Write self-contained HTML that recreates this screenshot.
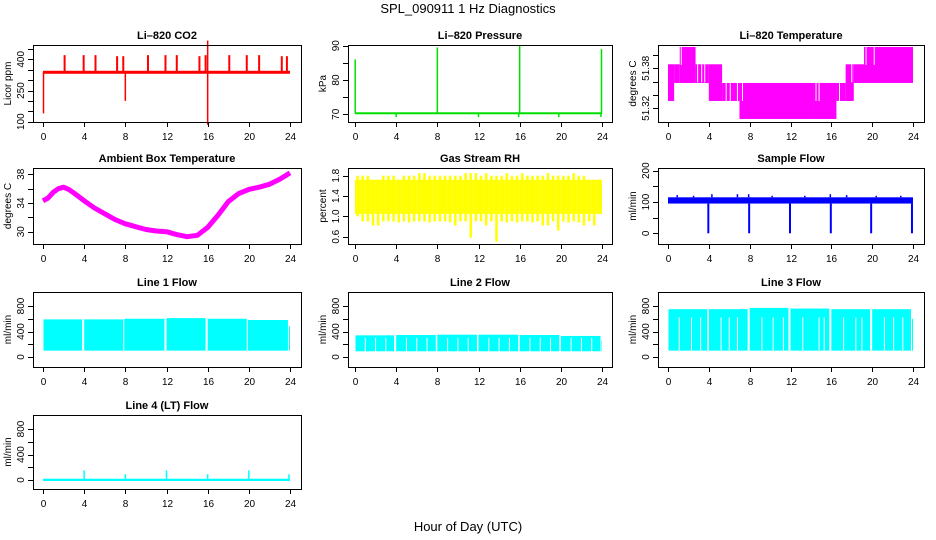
<!DOCTYPE html>
<html><head><meta charset="utf-8"><style>
html,body{margin:0;padding:0;background:#fff;}
svg{display:block;font-family:"Liberation Sans",sans-serif;}
</style></head><body>
<svg id="fig" width="936" height="540" viewBox="0 0 936 540" xmlns="http://www.w3.org/2000/svg">
<text x="468" y="13" text-anchor="middle" font-size="13">SPL_090911  1 Hz Diagnostics</text>
<text x="468" y="531" text-anchor="middle" font-size="13">Hour of Day (UTC)</text>
</svg>
<script>
// ---------- data ----------
const xTicks = [0,4,8,12,16,20,24];
// CO2
const co2Base = 340;
const co2SpikeHours = [2.1,3.95,5.1,7.2,7.8,10.2,11.9,13.0,15.2,15.8,18.1,19.8,21.0,23.2,23.7];
const co2SpikeVals = [420,420,420,415,415,420,420,420,415,420,420,420,420,415,415];
const co2DipHours = [0.05,8.0,16.0];
const co2DipVals = [140,200,85];
const co2UpHours = [16.0];
const co2UpVals = [490];
const co2Ticks = [100,150,200,250,300,350,400,450];
const co2Labels = [100,250,400];
// Pressure
const presBase = 70.3;
const presSpikeHours = [0.02,8.0,16.0,23.95];
const presSpikeVals = [86,89.5,90,89];
const presDipHours = [4.0,12.0,15.9,19.8,23.9];
const presDipVals = [69.2,69.2,69.2,69.2,69.2];
const presTicks = [70,75,80,85,90];
const presLabels = [70,80,90];
// Li-820 temperature: segments
const ltStart = [0,0.6,1.15,2.7,4.0,5.3,7.0,14.3,16.5,17.4,18.2,19.2];
const ltEnd   = [0.6,1.15,2.7,4.0,5.3,7.0,14.3,16.5,17.4,18.2,19.2,24];
const ltLow   = [51.331,51.358,51.358,51.358,51.331,51.331,51.304,51.304,51.331,51.331,51.358,51.358];
const ltHigh  = [51.386,51.386,51.412,51.386,51.386,51.358,51.358,51.358,51.358,51.386,51.386,51.412];
const ltGapHours = [1.3,2.9,3.3,3.6,5.7,6.1,6.8,7.3,14.5,14.8,16.8,18.0,19.4,20.2];
const ltTicks = [51.32,51.34,51.36,51.38,51.40];
const ltLabels = [51.32,51.38];
// Ambient box temperature
const ambHours = [0,0.5,1,1.5,2,2.5,3,4,5,6,7,8,9,10,11,12,13,14,15,16,17,18,19,20,21,22,23,24];
const ambVals  = [34.3,34.7,35.5,36.0,36.2,35.9,35.4,34.3,33.3,32.5,31.7,31.1,30.7,30.3,30.1,30.0,29.6,29.3,29.5,30.6,32.3,34.2,35.3,35.9,36.2,36.6,37.3,38.2];
const ambTicks = [30,32,34,36,38];
const ambLabels = [30,34,38];
// RH (half-hour bins)
const rhMax = [1.8,1.8,1.8,1.72,1.72,1.8,1.8,1.8,1.72,1.8,1.8,1.8,1.85,1.85,1.8,1.8,1.8,1.8,1.8,1.8,1.8,1.85,1.85,1.85,1.8,1.85,1.8,1.8,1.8,1.85,1.8,1.8,1.85,1.8,1.8,1.8,1.8,1.85,1.8,1.8,1.8,1.8,1.85,1.8,1.8,1.72,1.72,1.72];
const rhMin = [1.0,0.9,0.9,0.82,0.82,0.9,0.9,0.9,0.88,0.9,0.88,0.9,0.9,0.9,0.88,0.9,0.9,0.9,0.88,0.82,0.9,0.9,0.58,0.9,0.9,0.82,0.9,0.5,0.9,0.88,0.9,0.88,0.9,0.9,0.88,0.9,0.82,0.82,0.9,0.72,0.9,0.88,0.9,0.88,0.82,0.9,0.82,1.1];
const rhTicks = [0.6,1.0,1.4,1.8];
const rhLabels = ["0.6","1.0","1.4","1.8"];
// Sample flow
const sfLow = 95, sfHigh = 115;
const sfDipHours = [3.95,7.95,11.95,15.95,19.9,23.9];
const sfSpikeHours = [0.9,2.5,4.3,6.8,7.9,10.2,13.4,15.9,17.5,20.4,22.8];
const sfSpikeVals = [122,120,125,125,125,120,120,125,122,120,120];
const sfTicks = [0,50,100,150,200];
const sfLabels = [0,100,200];
// Line flows
const flowTicks = [0,200,400,600,800];
const flowLabels = [0,400,800];
const l1Start = [0.05,4.0,7.9,12.0,16.0,19.9,23.9];
const l1End   = [3.8,7.8,11.8,15.8,19.8,23.8,24.0];
const l1High  = [590,590,600,610,600,580,480];
const l1Low = 100;
const l2Start = [0.05,4.0,8.0,12.0,16.0,20.0,23.95];
const l2End   = [3.8,7.85,11.85,15.85,19.85,23.85,24.0];
const l2High  = [340,345,350,350,345,330,260];
const l2Low = 90;
const l2GapHours = [1,2,3,5,6,7,9,10,11,13,14,15,17,18,19,21,22,23];
const l2GapTop = 300;
const l3Start = [0.05,4.0,8.0,12.0,16.0,20.0,23.9];
const l3End   = [3.85,7.8,11.8,15.8,19.8,23.8,24.0];
const l3High  = [750,750,770,760,750,750,600];
const l3Low = 100;
const l3GapHours = [1.1,2.3,3.2,5.2,6.0,6.8,9.2,10.3,11.3,13.2,14.8,15.3,17.2,18.4,19.0,21.2,22.1,23.0];
const l3GapTop = 620;
const l4SpikeHours = [4.0,8.0,12.0,16.0,20.0,23.9];
const l4SpikeVals = [150,90,150,90,150,90];
const l4High = 20;

// ---------- helpers ----------
const NS = "http://www.w3.org/2000/svg";
const svg = document.getElementById("fig");
function mk(tag, attrs, parent){const e=document.createElementNS(NS,tag);for(const k in attrs)e.setAttribute(k,attrs[k]);(parent||svg).appendChild(e);return e;}
function lin(d0,d1,r0,r1){return v=>r0+(v-d0)*(r1-r0)/(d1-d0);}

function panel(o){
  const g=mk("g",{});
  
  
  const X=lin(0,24,o.x0,o.x24);
  const Y=lin(o.v0,o.v1,o.p0,o.p1);
  const t=mk("text",{x:(o.bx0+o.bx1)/2,y:o.by0-6,"text-anchor":"middle","font-size":"11","font-weight":"bold"},g);
  t.textContent=o.title;
  
  
  const plot=mk("g",{},g);
  
  
  o.draw(plot,X,Y);
  const box=mk("rect",{x:o.bx0+0.5,y:o.by0+0.5,width:o.bx1-o.bx0,height:o.by1-o.by0,fill:"none",stroke:"#000","stroke-width":1},g);
  
  
  const xa=mk("g",{},g);
  
  
  xTicks.forEach(v=>{
    const x=Math.round(X(v))+0.5;
    mk("line",{x1:x,x2:x,y1:o.by1,y2:o.by1+5,stroke:"#000"},xa);
    const tx=mk("text",{x:x,y:o.by1+18,"text-anchor":"middle","font-size":"10"},xa);
    tx.textContent=v;
  });
  const ya=mk("g",{},g);
  
  
  o.yTicks.forEach(v=>{
    const y=Math.round(Y(v))+0.5;
    mk("line",{x1:o.bx0-5,x2:o.bx0,y1:y,y2:y,stroke:"#000"},ya);
  });
  o.yLabels.forEach(v=>{
    const y=Y(+v);
    const tx=mk("text",{x:0,y:0,"text-anchor":"middle","font-size":"10",transform:`translate(${o.bx0-9},${y}) rotate(-90)`},ya);
    tx.textContent=v;
  });
  const yt=mk("text",{x:0,y:0,"text-anchor":"middle","font-size":"10",transform:`translate(${o.bx0-22},${(o.by0+o.by1)/2}) rotate(-90)`},g);
  yt.textContent=o.ylab;
  
  
}
function vline(p,x,y1,y2,c,w,nm){const e=mk("line",{x1:x,x2:x,y1:y1,y2:y2,stroke:c,"stroke-width":w||1.5},p);return e;}
function rect(p,x0,x1,y0,y1,c,nm){const e=mk("rect",{x:Math.min(x0,x1),y:Math.min(y0,y1),width:Math.abs(x1-x0),height:Math.max(1,Math.abs(y1-y0)),fill:c},p);return e;}

const C1={bx0:33,bx1:301,x0:43,x24:290}, C2={bx0:348,bx1:612,x0:355,x24:602}, C3={bx0:658,bx1:924,x0:668,x24:913};
const R1={by0:45,by1:122}, R2={by0:168,by1:244}, R3={by0:292,by1:367}, R4={by0:415,by1:489};

panel(Object.assign({name:"co2",title:"Li\u2013820 CO2",ylab:"Licor ppm",v0:100,v1:400,p0:121.7,p1:59.3,yTicks:co2Ticks,yLabels:co2Labels,
 draw:(p,X,Y)=>{
  const red="#ff0000";
  rect(p,X(0),X(24),Y(co2Base)-1,Y(co2Base)+2,red,"co2-baseline");
  co2SpikeHours.forEach((h,i)=>vline(p,X(h),Y(co2Base),Y(co2SpikeVals[i]),red,2,"co2-spike"));
  co2DipHours.forEach((h,i)=>vline(p,X(h),Y(co2Base),Y(co2DipVals[i]),red,1.5,"co2-dip"));
  co2UpHours.forEach((h,i)=>vline(p,X(h),Y(co2Base),Y(co2UpVals[i]),red,1.5,"co2-up-spike"));
 }},C1,R1));

panel(Object.assign({name:"pressure",title:"Li\u2013820 Pressure",ylab:"kPa",v0:70,v1:90,p0:114.3,p1:45.7,yTicks:presTicks,yLabels:presLabels,
 draw:(p,X,Y)=>{
  const gr="#00e000";
  rect(p,X(0),X(24),Y(presBase)-1,Y(presBase)+1,gr,"pressure-baseline");
  presSpikeHours.forEach((h,i)=>vline(p,X(h),Y(presBase),Y(presSpikeVals[i]),gr,1.5,"pressure-spike"));
  presDipHours.forEach((h,i)=>vline(p,X(h),Y(presBase),Y(presDipVals[i]),gr,1.5,"pressure-dip"));
 }},C2,R1));

panel(Object.assign({name:"li820-temp",title:"Li\u2013820 Temperature",ylab:"degrees C",v0:51.32,v1:51.38,p0:108.3,p1:68.3,yTicks:ltTicks,yLabels:ltLabels,
 draw:(p,X,Y)=>{
  ltStart.forEach((s,i)=>rect(p,X(s),X(ltEnd[i]),Y(ltHigh[i]),Y(ltLow[i]),"#ff00ff","temp-band"));
  ltGapHours.forEach(h=>{
    const i=ltStart.findIndex((s,k)=>h>=s&&h<ltEnd[k]);
    vline(p,X(h),Y(ltHigh[i]),Y(ltHigh[i]-0.027),"#ffffff",1,"temp-gap");
  });
 }},C3,R1));

panel(Object.assign({name:"ambient-temp",title:"Ambient Box Temperature",ylab:"degrees C",v0:30,v1:38,p0:231.7,p1:174.3,yTicks:ambTicks,yLabels:ambLabels,
 draw:(p,X,Y)=>{
  const d=ambHours.map((h,i)=>(i?"L":"M")+X(h).toFixed(1)+","+Y(ambVals[i]).toFixed(1)).join(" ");
  const e=mk("path",{d:d,fill:"none",stroke:"#ff00ff","stroke-width":5,"stroke-linejoin":"round"},p);
  
  
 }},C1,R2));

panel(Object.assign({name:"rh",title:"Gas Stream RH",ylab:"percent",v0:0.6,v1:1.8,p0:236.7,p1:175.7,yTicks:rhTicks,yLabels:rhLabels,
 draw:(p,X,Y)=>{
  const n=rhMax.length;
  rhMax.forEach((v,i)=>{
    rect(p,X(24*i/n),X(24*(i+1)/n),Y(1.72),Y(1.05),"#ffff00","rh-core");
    vline(p,X(24*(i+0.5)/n),Y(v),Y(rhMin[i]),"#ffff00",2.5,"rh-bar");
  });
 }},C2,R2));

panel(Object.assign({name:"sample-flow",title:"Sample Flow",ylab:"ml/min",v0:0,v1:200,p0:233.3,p1:170.7,yTicks:sfTicks,yLabels:sfLabels,
 draw:(p,X,Y)=>{
  const b="#0000ff";
  rect(p,X(0),X(24),Y(sfHigh),Y(sfLow),b,"sample-flow-band");
  sfDipHours.forEach(h=>vline(p,X(h),Y(sfLow),Y(0),b,2,"sample-flow-dip"));
  sfSpikeHours.forEach((h,i)=>vline(p,X(h),Y(sfHigh),Y(sfSpikeVals[i]),b,1.5,"sample-flow-spike"));
 }},C3,R2));

function flowPanel(name,title,col,row,starts,ends,highs,low,gaps,gapTop){
  panel(Object.assign({name:name,title:title,ylab:"ml/min",v0:0,v1:800,p0:row.by1-10,p1:row.by0+14,yTicks:flowTicks,yLabels:flowLabels,
   draw:(p,X,Y)=>{
    starts.forEach((s,i)=>rect(p,X(s),X(ends[i]),Y(highs[i]),Y(low),"#00ffff","flow-block"));
    (gaps||[]).forEach(h=>vline(p,X(h),Y(gapTop),Y(low),"#ffffff",1,"flow-gap"));
   }},col,row));
}
flowPanel("line1-flow","Line 1 Flow",C1,R3,l1Start,l1End,l1High,l1Low);
flowPanel("line2-flow","Line 2 Flow",C2,R3,l2Start,l2End,l2High,l2Low,l2GapHours,l2GapTop);
flowPanel("line3-flow","Line 3 Flow",C3,R3,l3Start,l3End,l3High,l3Low,l3GapHours,l3GapTop);

panel(Object.assign({name:"line4-flow",title:"Line 4 (LT) Flow",ylab:"ml/min",v0:0,v1:800,p0:R4.by1-9,p1:R4.by0+14,yTicks:flowTicks,yLabels:flowLabels,
 draw:(p,X,Y)=>{
  rect(p,X(0),X(24),Y(l4High),Y(0)+1,"#00ffff","line4-baseline");
  l4SpikeHours.forEach((h,i)=>vline(p,X(h),Y(0),Y(l4SpikeVals[i]),"#00ffff",1.5,"line4-spike"));
 }},C1,R4));
</script>
</body></html>
